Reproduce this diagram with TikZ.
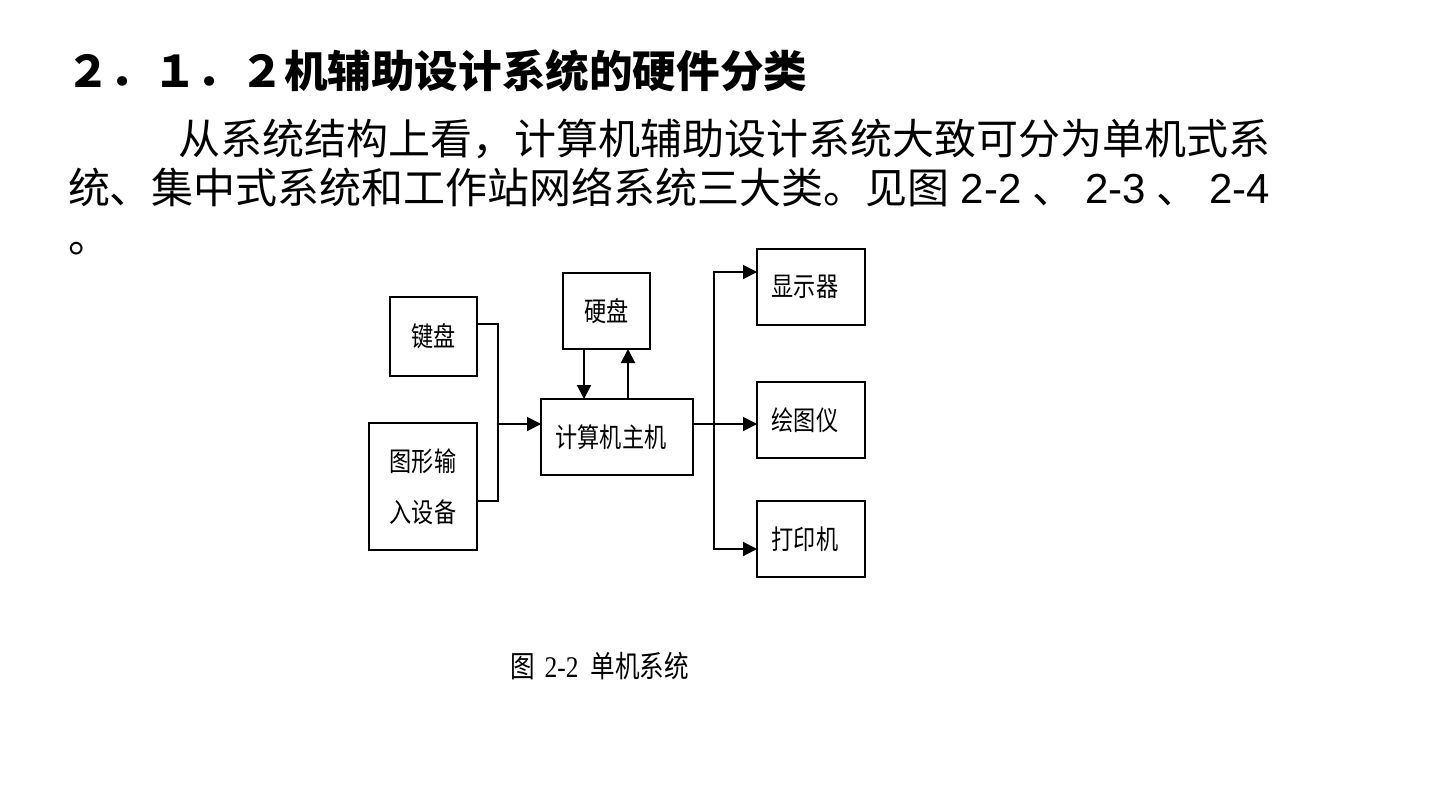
\documentclass[tikz,border=0pt]{standalone}
\usepackage{fontspec}
\setmainfont{Liberation Sans}
\newfontfamily\cjk{Noto Sans CJK SC}
\newfontfamily\diag[FakeStretch=0.82]{Noto Sans CJK SC}
\newfontfamily\capserif[FakeStretch=0.85]{Liberation Serif}
\usetikzlibrary{positioning, arrows.meta, calc}

\begin{document}
\begin{tikzpicture}[
      x=0.5pt, y=-0.5pt,
      every node/.style={inner sep=0pt, outer sep=0pt},
      hw/.style={draw, line width=1pt, minimum width=54pt, minimum height=38pt, font=\diag\fontsize{13.5}{16}\selectfont},
      link/.style={line width=1pt},
      feed/.style={link, -{Triangle[length=7pt, width=7pt]}},
      para/.style={anchor=base west, font=\cjk\fontsize{21}{25}\selectfont},
    ]
    \useasboundingbox (0,0) rectangle (1440,810);

    % Text
    \node[anchor=base west, font=\cjk\bfseries\fontsize{21.8}{26}\selectfont] (title) at (66,87) {２．１．２机辅助设计系统的硬件分类};
    \node[para] (line1) at (178,154) {从系统结构上看，计算机辅助设计系统大致可分为单机式系};
    \node[para] (line2) at (68,203) {\makebox[601pt][s]{统、集中式系统和工作站网络系统三大类。见图 {\rmfamily 2-2} 、 {\rmfamily 2-3} 、 {\rmfamily 2-4}}};
    \node[para] (line3) at (68,252) {。};

    % Hardware
    \node[hw, minimum width=43.5pt, minimum height=39.5pt] (kbd) at (433.5,336.5) {键盘};
    \node[hw, minimum height=63.5pt, align=left] (gin) at (423,486.5) {图形输\\[9.5pt]入设备};
    \node[hw, minimum width=43.5pt] (hd) at (606.5,311) {硬盘};
    \node[hw, minimum width=76pt] (host) at (617,437) {\hspace*{-6pt}计算机主机};
    \node[hw] (disp) at (811,287) {\hspace*{-6pt}显示器};
    \node[hw] (plot) at (811,420) {\hspace*{-6pt}绘图仪};
    \node[hw] (prt) at (811,539) {\hspace*{-6pt}打印机};
    \node[anchor=base west, font=\diag\fontsize{15}{18}\selectfont] (cap) at (510,677) {图\hspace{5pt}{\capserif 2-2}\hspace{6pt}单机系统};

    % Arrows
    \coordinate (merge) at (498,424);
    \coordinate (split) at (714,424);
    \coordinate (hdin) at ($(hd.south)+(-22.5,0)$);
    \coordinate (hdout) at ($(hd.south)+(21.5,0)$);
    \draw[link] ($(kbd.east)+(0,-12.5)$) -| (merge);
    \draw[link] ($(gin.east)+(0,14.5)$) -| (merge);
    \draw[feed] (merge) -- (merge -| host.west);
    \draw[feed] (hdin) -- (hdin |- host.north);
    \draw[feed] (hdout |- host.north) -- (hdout);
    \draw[link] (split -| host.east) -- (split);
    \draw[feed] (split) |- ($(disp.west)+(0,-15)$);
    \draw[feed] (split) -- (split -| plot.west);
    \draw[feed] (split) |- ($(prt.west)+(0,10)$);
  \end{tikzpicture}
\end{document}
